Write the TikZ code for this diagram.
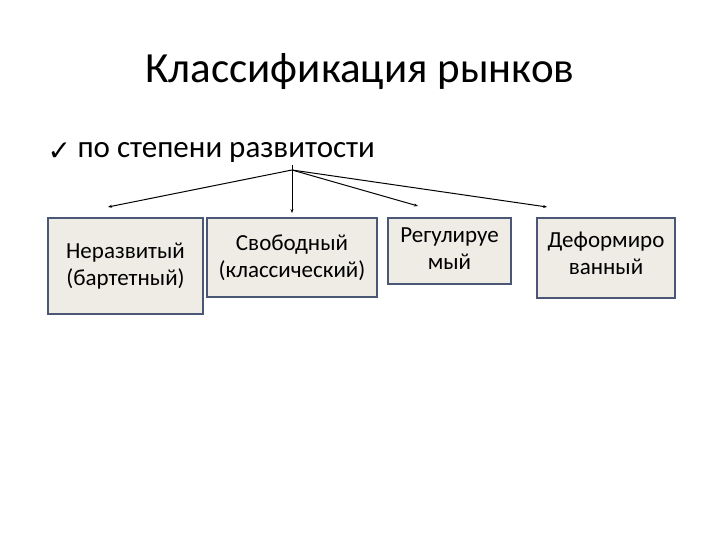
\documentclass[tikz,border=0pt]{standalone}
\usepackage{fontspec}
\usetikzlibrary{arrows.meta}
\setmainfont{Carlito}
\newfontfamily\dvs{DejaVu Sans}
\begin{document}
\begin{tikzpicture}[x=1pt,y=-1pt,
  box/.style={draw={rgb,255:red,74;green,88;blue,118}, line width=1.8pt, fill={rgb,255:red,238;green,236;blue,228}, align=center, font=\fontsize{23}{27}\selectfont, inner sep=0pt},
  txt/.style={align=center, font=\fontsize{23}{27}\selectfont},
  arr/.style={-{Stealth[length=4pt,width=3pt]}, line width=1pt}]
\useasboundingbox (0,0) rectangle (720,540);
\node (title) at (360,72) {\fontsize{43}{48}\selectfont Классификация рынков};
\node[anchor=west] (chk) at (44,152) {\dvs\bfseries\fontsize{28}{32}\selectfont ✓};
\node[anchor=west] (sub) at (74,152) {\fontsize{31}{36}\selectfont по степени развитости};
\coordinate (src) at (292,170);
\coordinate (top) at (292,165);
\node[box, minimum width=155, minimum height=96] (b1) at (125.5,266) {};
\node[txt] (l1) at (125.5,266) {Неразвитый\\(бартетный)};
\node[box, minimum width=170, minimum height=79] (b2) at (292,257.5) {Свободный\\(классический)};
\node[box, minimum width=123, minimum height=66] (b3) at (449.5,251) {};
\node[txt] (l3) at (449.5,249) {Регулируе\\мый};
\node[box, minimum width=138, minimum height=80] (b4) at (606,258) {};
\node[txt] (l4) at (606,253) {Деформиро\\ванный};
\coordinate (t1) at (108,207);
\coordinate (t2) at (292,213);
\coordinate (t3) at (418,206);
\coordinate (t4) at (547,207);
\foreach \t in {t1,t2,t3,t4} \draw[arr] (src) -- (\t);
\draw[line width=1pt] (top) -- (src);
\end{tikzpicture}
\end{document}
